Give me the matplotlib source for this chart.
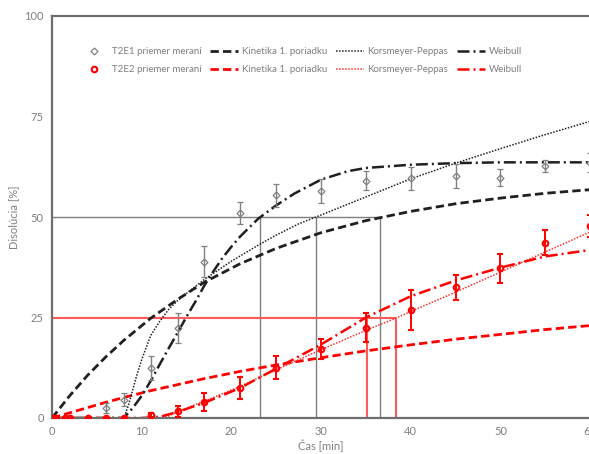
import matplotlib
matplotlib.use('Agg')
import matplotlib.pyplot as plt
from matplotlib.lines import Line2D

plt.rcParams['font.family'] = ['Lato', 'DejaVu Sans']

# measured means (T2E1 grey, T2E2 red)
t_meas = [0, 0.5, 1.5, 2, 4, 6, 8, 11, 14, 17, 21, 25, 30, 35, 40, 45, 50, 55, 60]
e1_mean = [0, 0, 0, 0, 0, 2.5, 4.5, 12.4, 22.4, 38.9, 51.0, 55.4, 56.5, 59.0, 59.6, 60.2, 59.8, 62.7, 63.5]
e1_sd = [0, 0, 0, 0, 0, 1.3, 1.6, 2.9, 3.7, 3.9, 2.8, 2.9, 3.0, 2.4, 2.9, 3.0, 2.2, 1.6, 2.3]
e2_mean = [0, 0, 0, 0, 0, 0, 0, 0.7, 1.7, 3.9, 7.5, 12.5, 17.2, 22.5, 26.9, 32.5, 37.2, 43.6, 47.8]
e2_sd = [0, 0, 0, 0, 0, 0, 0, 0.5, 1.4, 2.2, 2.8, 2.8, 2.4, 3.6, 4.9, 3.1, 3.6, 3.1, 2.7]

# model curves
t_fo = [0, 2, 4, 6, 8, 11, 14, 17, 21, 25, 30, 35, 40, 45, 50, 55, 60]
fo1 = [0, 5.6, 10.7, 15.2, 19.3, 24.8, 29.5, 33.8, 38.4, 42.2, 46.1, 49.1, 51.4, 53.3, 54.7, 55.9, 56.8]
fo2 = [0, 1.3, 2.6, 3.9, 5.1, 6.8, 8.3, 9.8, 11.6, 13.2, 15.0, 16.7, 18.2, 19.6, 20.8, 22.0, 23.0]

t_kp1 = [0, 8, 8.5, 9, 9.5, 10, 10.5, 11, 12, 13, 14, 15, 17, 20, 23, 25, 27.5, 30, 35, 40, 45, 50, 55, 60]
kp1 = [0, 0, 3, 7, 11, 14.5, 17.5, 20.5, 24, 27, 29.2, 31, 34.5, 39, 43, 45.5, 48.3, 50.5, 55, 59.5, 63.4, 67, 70.5, 73.8]
t_kp2 = [0, 12, 13, 14, 17, 21, 25, 30, 35, 38.5, 40, 45, 50, 55, 60]
kp2 = [0, 0, 0.5, 1.6, 4.2, 7.9, 12.0, 17.0, 21.8, 25.0, 26.5, 31.3, 36.3, 41.3, 46.3]

t_w1 = [0, 8, 9, 10, 11, 12, 13, 14, 15, 16, 17, 18, 19, 20, 21, 23, 25, 27, 30, 33, 35, 40, 45, 50, 55, 60]
w1 = [0, 0, 2.5, 5.5, 9.2, 13.3, 17.3, 21.2, 25.2, 29.0, 33.0, 36.5, 39.8, 42.6, 45.2, 49.6, 52.9, 55.8, 59.3, 61.4, 62.2, 63.0, 63.4, 63.6, 63.6, 63.6]
t_w2 = [0, 10, 12, 14, 17, 21, 25, 30, 35, 40, 45, 50, 55, 60]
w2 = [0, 0, 0.3, 1.5, 3.8, 7.5, 12.3, 18.3, 25.0, 30.3, 34.2, 37.4, 40.2, 41.8]

# t50 (E1) and t25 (E2) guide lines
t50_e1 = [23.2, 29.4, 36.6]
t25_e2 = [35.15, 38.4]

grey = '#808080'
red = '#ff0000'

fig = plt.figure(figsize=(5.89, 4.54), dpi=100)
ax = fig.add_axes([52/589, 1 - 418/454, 1 - 52/589 + 0.002, (418 - 16)/454])

ax.hlines(50, 0, max(t50_e1), color='#7f7f7f', lw=1.0, zorder=1)
ax.vlines(t50_e1, 0, 50, color='#7f7f7f', lw=1.0, zorder=1)
ax.hlines(25, 0, max(t25_e2), color='#ff5a5a', lw=1.5, zorder=1)
ax.vlines(t25_e2, 0, 25, color='#ff5a5a', lw=1.5, zorder=1)

ax.errorbar(t_meas, e1_mean, yerr=e1_sd, fmt='D', ms=3.5, mfc='none', mec=grey,
            mew=0.9, ecolor=grey, elinewidth=1.0, capsize=2.5, capthick=1.0, zorder=3)
ax.errorbar(t_meas, e2_mean, yerr=e2_sd, fmt='o', ms=4, mfc='none', mec=red,
            mew=1.5, ecolor=red, elinewidth=1.4, capsize=2.5, capthick=1.2, zorder=3)

fo1_line, = ax.plot(t_fo, fo1, color='#202020', lw=2.0, ls=(0, (3, 1.5)), zorder=2)
fo2_line, = ax.plot(t_fo, fo2, color=red, lw=2.0, ls=(0, (3, 1.5)), zorder=2)
kp1_line, = ax.plot(t_kp1, kp1, color='#202020', lw=1.1, ls=(0, (1, 1)), zorder=2)
kp2_line, = ax.plot(t_kp2, kp2, color='#ff3030', lw=1.1, ls=(0, (1, 1)), zorder=2)
w1_line, = ax.plot(t_w1, w1, color='#202020', lw=1.8, ls=(0, (4.8, 1.6, 0.8, 1.6)), zorder=2)
w2_line, = ax.plot(t_w2, w2, color=red, lw=1.8, ls=(0, (4.8, 1.6, 0.8, 1.6)), zorder=2)

ax.set_xlim(0, 60)
ax.set_ylim(0, 100)
ax.set_xticks([0, 10, 20, 30, 40, 50, 60])
ax.set_yticks([0, 25, 50, 75, 100])
ax.tick_params(length=0, labelsize=8, labelcolor='#7f7f7f', pad=6)
for side in ['left', 'bottom', 'top']:
    ax.spines[side].set_color('#6e6e6e')
    ax.spines[side].set_linewidth(1.6)
ax.spines['right'].set_visible(False)

ax.set_xlabel('Čas [min]', fontsize=8, color='#7f7f7f', labelpad=2)
ax.set_ylabel('Disolúcia [%]', fontsize=8, color='#7f7f7f', labelpad=4)

# legend markers without error bars
m1 = Line2D([], [], ls='none', marker='D', ms=3.5, mfc='none', mec=grey, mew=0.9)
m2 = Line2D([], [], ls='none', marker='o', ms=4, mfc='none', mec=red, mew=1.5)

handles = [m1, m2, fo1_line, fo2_line, kp1_line, kp2_line, w1_line, w2_line]
labels = ['T2E1 priemer meraní', 'T2E2 priemer meraní',
          'Kinetika 1. poriadku', 'Kinetika 1. poriadku',
          'Korsmeyer-Peppas', 'Korsmeyer-Peppas',
          'Weibull', 'Weibull']
leg = ax.legend(handles, labels, ncol=4, loc='upper left', bbox_to_anchor=(0.045, 0.932),
                frameon=False, fontsize=7, handlelength=2.9, handletextpad=0.35,
                columnspacing=0.9, labelspacing=0.95, borderaxespad=0)
for txt in leg.get_texts():
    txt.set_color('#7f7f7f')

fig.savefig('out.png', dpi=100)
